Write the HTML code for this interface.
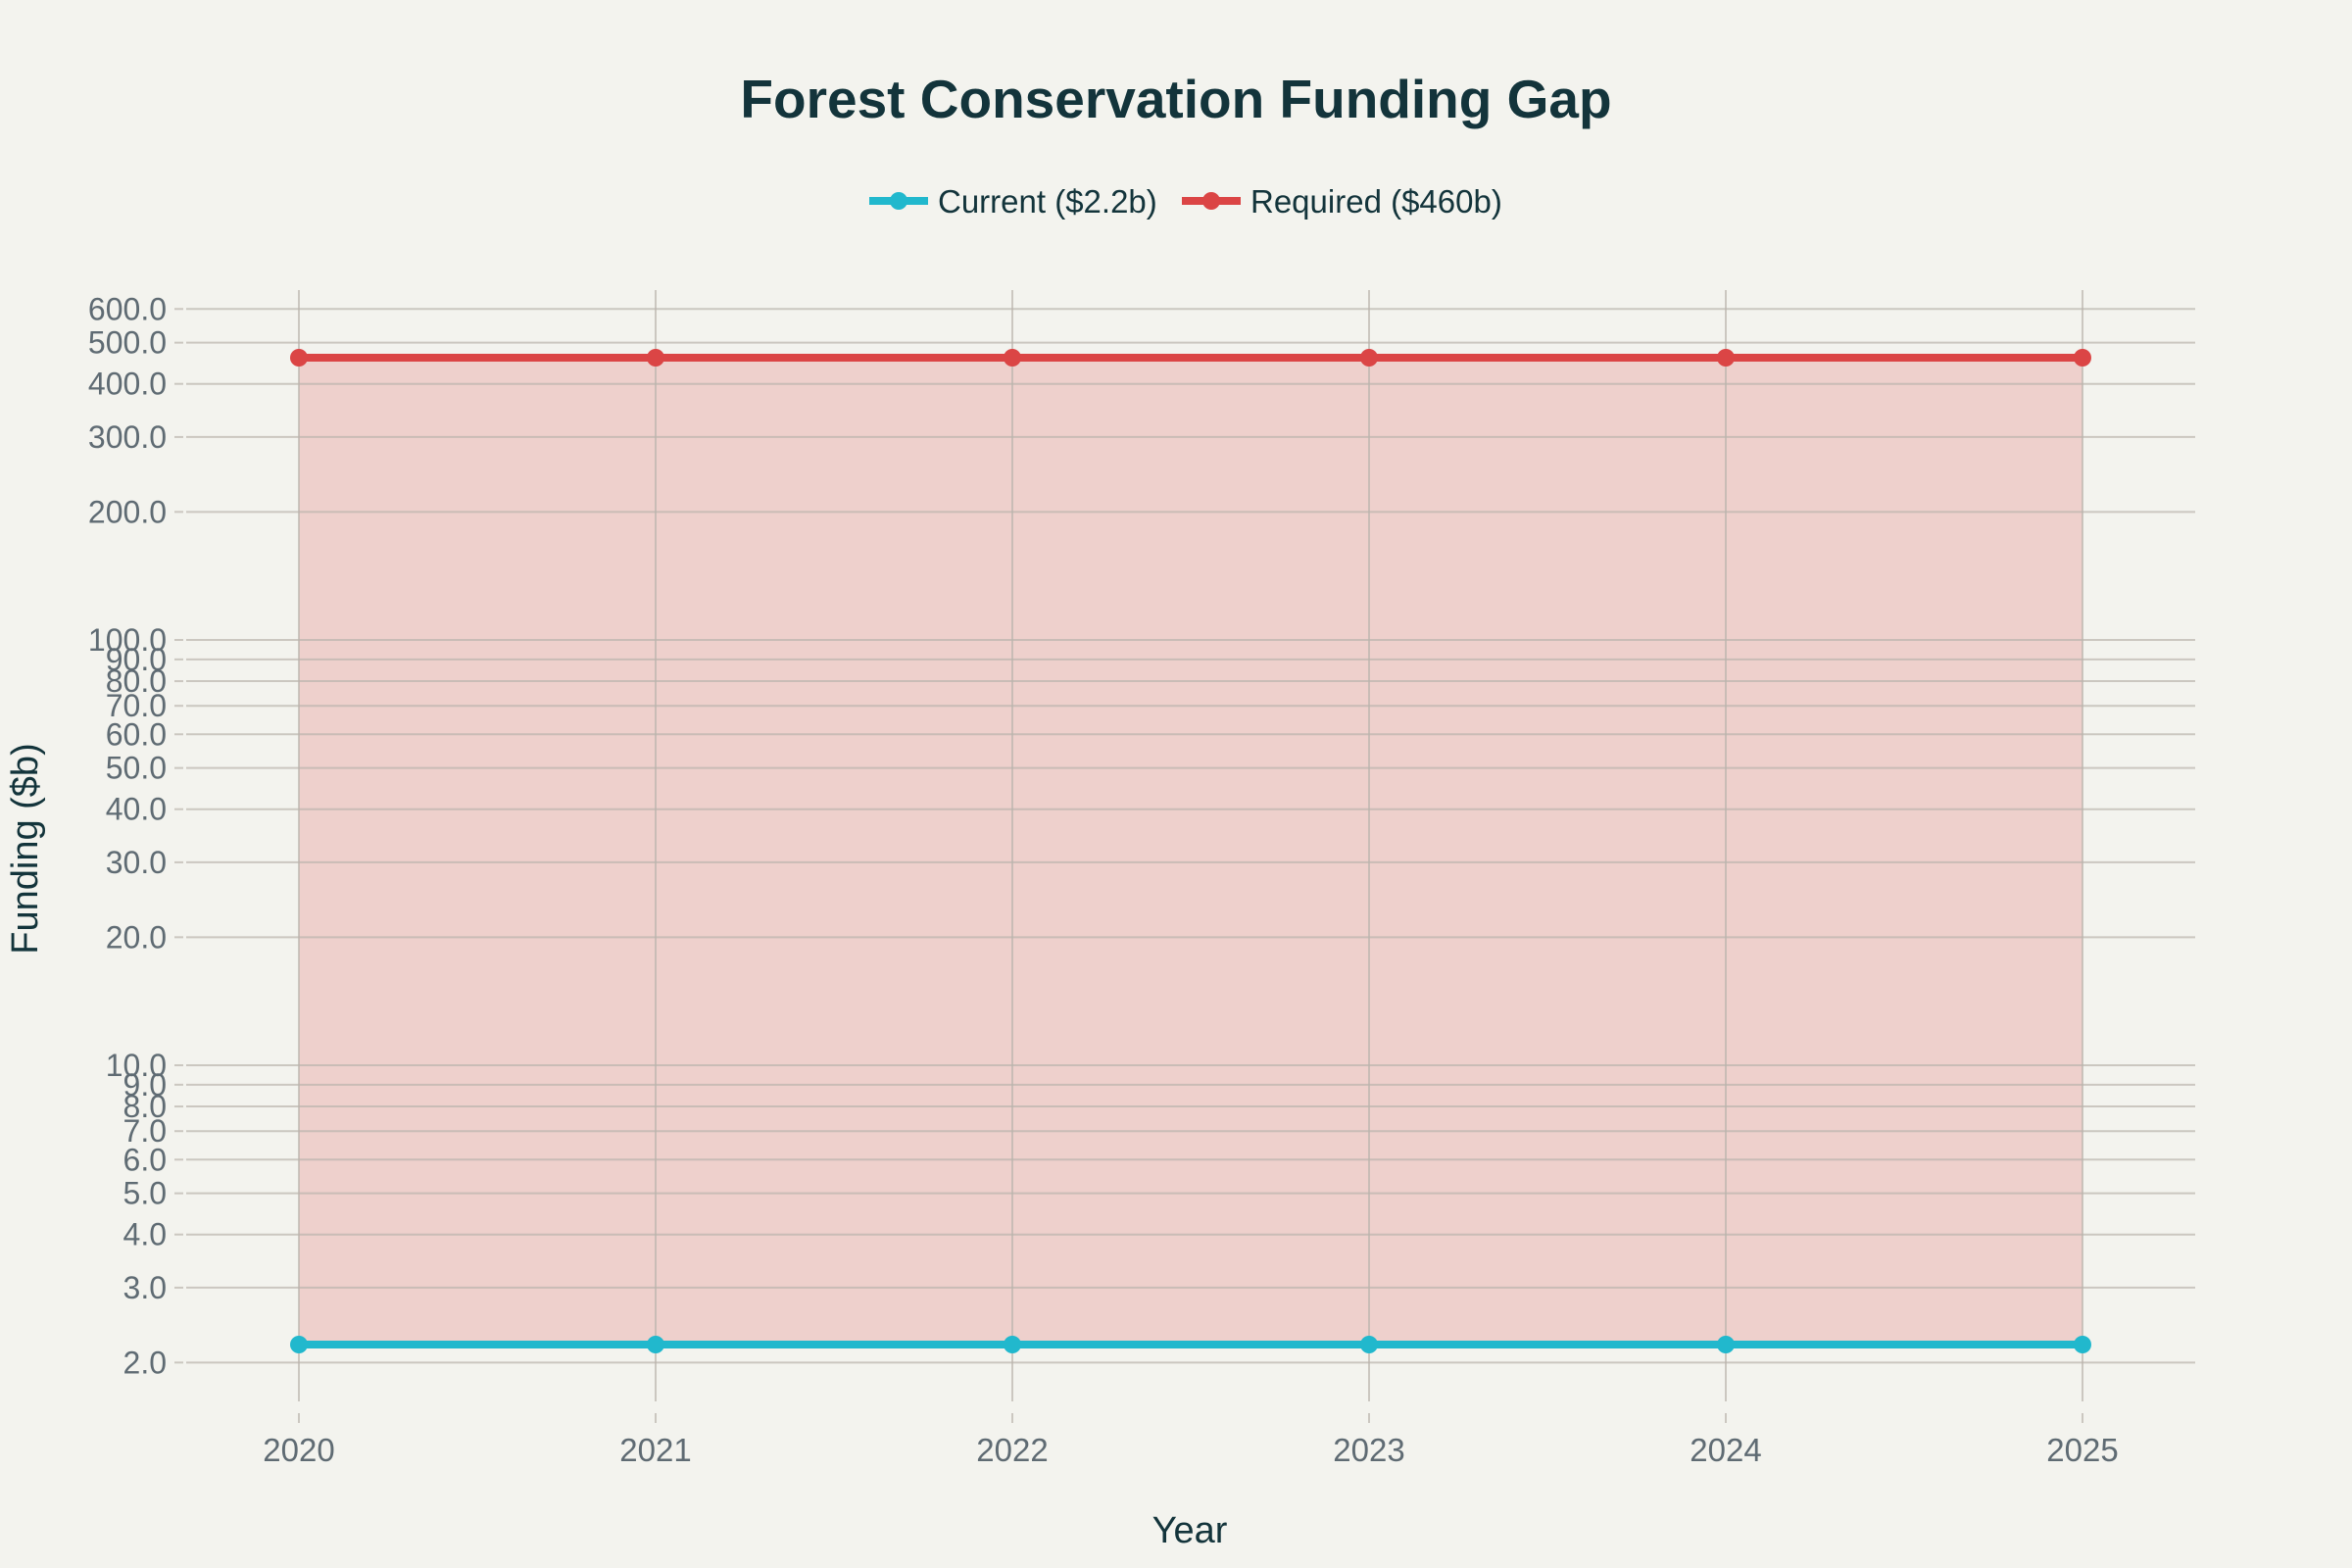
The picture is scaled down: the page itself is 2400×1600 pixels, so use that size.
<!DOCTYPE html>
<html><head><meta charset="utf-8"><style>
html,body{margin:0;padding:0;background:#f3f3ee;}
svg{display:block;font-family:"Liberation Sans",sans-serif;}
</style></head><body>
<svg width="2400" height="1600" xmlns="http://www.w3.org/2000/svg">
<rect width="2400" height="1600" fill="#f3f3ee"/>
<text x="1200" y="120" text-anchor="middle" font-size="55" font-weight="bold" fill="#13343b">Forest Conservation Funding Gap</text>
<line x1="887" y1="205" x2="947" y2="205" stroke="#21b8cd" stroke-width="8"/><circle cx="917" cy="205" r="9" fill="#21b8cd"/>
<text x="957" y="217" font-size="33" fill="#13343b">Current ($2.2b)</text>
<line x1="1206" y1="205" x2="1266" y2="205" stroke="#db4545" stroke-width="8"/><circle cx="1236" cy="205" r="9" fill="#db4545"/>
<text x="1276" y="217" font-size="33" fill="#13343b">Required ($460b)</text>
<rect x="305" y="365" width="1820" height="1007" fill="#db4545" fill-opacity="0.2"/>
<g id="grid" stroke="#b9b3ad" stroke-opacity="0.7" stroke-width="2"></g>
<g id="vgrid" stroke="#b9b3ad" stroke-opacity="0.7" stroke-width="2"></g>
<g id="ylab" font-size="32" fill="#5f6b73" text-anchor="end"></g>
<g id="xlab" font-size="33" fill="#5f6b73" text-anchor="middle"></g>
<line x1="305" y1="365" x2="2125" y2="365" stroke="#db4545" stroke-width="8"/>
<line x1="305" y1="1372" x2="2125" y2="1372" stroke="#21b8cd" stroke-width="8"/>
<g id="pts"></g>
<text x="1214" y="1574" text-anchor="middle" font-size="38" fill="#13343b">Year</text>
<text transform="translate(38,866) rotate(-90)" text-anchor="middle" font-size="38" fill="#13343b">Funding ($b)</text>
<script>
var ns="http://www.w3.org/2000/svg";
function el(p,t,a,txt){var e=document.createElementNS(ns,t);for(var k in a)e.setAttribute(k,a[k]);if(txt)e.textContent=txt;document.getElementById(p).appendChild(e);}
var vals=[600,500,400,300,200,100,90,80,70,60,50,40,30,20,10,9,8,7,6,5,4,3,2];
vals.forEach(function(v){var y=653-434*(Math.log10(v)-2);
el("grid","line",{x1:190,x2:2240,y1:y,y2:y});el("grid","line",{x1:178,x2:187,y1:y,y2:y});
el("ylab","text",{x:170,y:y+11},v.toFixed(1));});
for(var i=0;i<6;i++){var x=305+364*i;
el("vgrid","line",{x1:x,x2:x,y1:296,y2:1430});el("vgrid","line",{x1:x,x2:x,y1:1442,y2:1452});
el("xlab","text",{x:x,y:1491},String(2020+i));
el("pts","circle",{cx:x,cy:365,r:9,fill:"#db4545"});el("pts","circle",{cx:x,cy:1372,r:9,fill:"#21b8cd"});}
</script>
</svg>
</body></html>
